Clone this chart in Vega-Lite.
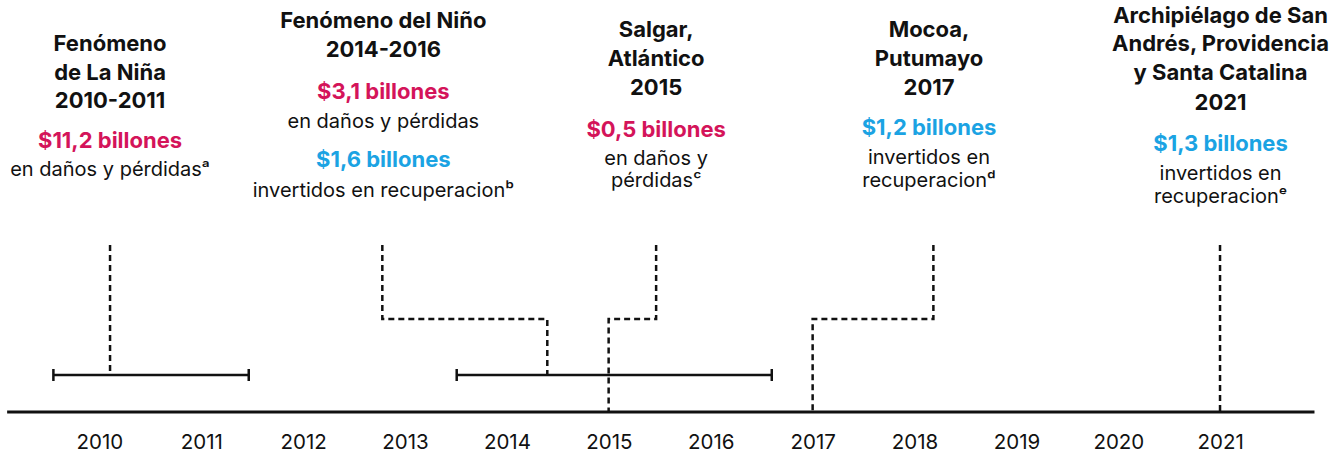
{
  "$schema": "https://vega.github.io/schema/vega-lite/v6.json",
  "width": 1342,
  "height": 455,
  "autosize": {"type": "fit", "contains": "padding"},
  "padding": 0,
  "background": "white",
  "config": {"view": {"stroke": null}, "font": "Inter"},
  "datasets": {
    "axisline": [{"from": 2009.09, "to": 2021.92, "h": 0}],
    "ranges": [
      {"event": "La Niña", "start": 2009.544, "end": 2011.461, "h": 37, "capLo": 31, "capHi": 43},
      {"event": "El Niño", "start": 2013.502, "end": 2016.594, "h": 37, "capLo": 31, "capHi": 43}
    ],
    "connectors": [
      {"id": "c1", "seq": 1, "x": 2010.10, "h": 167},
      {"id": "c1", "seq": 2, "x": 2010.10, "h": 37},
      {"id": "c2", "seq": 1, "x": 2012.772, "h": 167},
      {"id": "c2", "seq": 2, "x": 2012.772, "h": 93},
      {"id": "c2", "seq": 3, "x": 2014.391, "h": 93},
      {"id": "c2", "seq": 4, "x": 2014.391, "h": 37},
      {"id": "c3", "seq": 1, "x": 2015.459, "h": 167},
      {"id": "c3", "seq": 2, "x": 2015.459, "h": 93},
      {"id": "c3", "seq": 3, "x": 2014.993, "h": 93},
      {"id": "c3", "seq": 4, "x": 2014.993, "h": 0},
      {"id": "c4", "seq": 1, "x": 2018.180, "h": 167},
      {"id": "c4", "seq": 2, "x": 2018.180, "h": 93},
      {"id": "c4", "seq": 3, "x": 2016.995, "h": 93},
      {"id": "c4", "seq": 4, "x": 2016.995, "h": 0},
      {"id": "c5", "seq": 1, "x": 2020.993, "h": 167},
      {"id": "c5", "seq": 2, "x": 2020.993, "h": 0}
    ],
    "years": [
      {"x": 2010, "label": "2010", "h": -37},
      {"x": 2011, "label": "2011", "h": -37},
      {"x": 2012, "label": "2012", "h": -37},
      {"x": 2013, "label": "2013", "h": -37},
      {"x": 2014, "label": "2014", "h": -37},
      {"x": 2015, "label": "2015", "h": -37},
      {"x": 2016, "label": "2016", "h": -37},
      {"x": 2017, "label": "2017", "h": -37},
      {"x": 2018, "label": "2018", "h": -37},
      {"x": 2019, "label": "2019", "h": -37},
      {"x": 2020, "label": "2020", "h": -37},
      {"x": 2021, "label": "2021", "h": -37}
    ],
    "texts": [
      {"kind": "title", "x": 2010.10, "h": 361, "text": "Fenómeno"},
      {"kind": "title", "x": 2010.10, "h": 332.5, "text": "de La Niña"},
      {"kind": "title", "x": 2010.10, "h": 304, "text": "2010-2011"},
      {"kind": "damage", "x": 2010.10, "h": 264, "text": "$11,2 billones"},
      {"kind": "desc", "x": 2010.10, "h": 236, "text": "en daños y pérdidasᵃ"},

      {"kind": "title", "x": 2012.782, "h": 384, "text": "Fenómeno del Niño"},
      {"kind": "title", "x": 2012.782, "h": 355, "text": "2014-2016"},
      {"kind": "damage", "x": 2012.782, "h": 313, "text": "$3,1 billones"},
      {"kind": "desc", "x": 2012.782, "h": 284, "text": "en daños y pérdidas"},
      {"kind": "investment", "x": 2012.782, "h": 245, "text": "$1,6 billones"},
      {"kind": "desc", "x": 2012.782, "h": 215, "text": "invertidos en recuperacionᵇ"},

      {"kind": "title", "x": 2015.459, "h": 375, "text": "Salgar,"},
      {"kind": "title", "x": 2015.459, "h": 346, "text": "Atlántico"},
      {"kind": "title", "x": 2015.459, "h": 317, "text": "2015"},
      {"kind": "damage", "x": 2015.459, "h": 275, "text": "$0,5 billones"},
      {"kind": "desc", "x": 2015.459, "h": 247, "text": "en daños y"},
      {"kind": "desc", "x": 2015.459, "h": 225, "text": "pérdidasᶜ"},

      {"kind": "title", "x": 2018.137, "h": 375, "text": "Mocoa,"},
      {"kind": "title", "x": 2018.137, "h": 346, "text": "Putumayo"},
      {"kind": "title", "x": 2018.137, "h": 317, "text": "2017"},
      {"kind": "investment", "x": 2018.137, "h": 277, "text": "$1,2 billones"},
      {"kind": "desc", "x": 2018.137, "h": 248, "text": "invertidos en"},
      {"kind": "desc", "x": 2018.137, "h": 225, "text": "recuperacionᵈ"},

      {"kind": "title", "x": 2020.998, "h": 389, "text": "Archipiélago de San"},
      {"kind": "title", "x": 2020.998, "h": 361, "text": "Andrés, Providencia"},
      {"kind": "title", "x": 2020.998, "h": 332, "text": "y Santa Catalina"},
      {"kind": "title", "x": 2020.998, "h": 302, "text": "2021"},
      {"kind": "investment", "x": 2020.998, "h": 261, "text": "$1,3 billones"},
      {"kind": "desc", "x": 2020.998, "h": 232, "text": "invertidos en"},
      {"kind": "desc", "x": 2020.998, "h": 209, "text": "recuperacionᵉ"}
    ]
  },
  "layer": [
    {
      "data": {"name": "axisline"},
      "mark": {"type": "rule", "color": "#111111", "strokeWidth": 3},
      "encoding": {
        "x": {"field": "from", "type": "quantitative", "scale": {"domain": [2009.02, 2022.19], "nice": false, "zero": false}, "axis": null},
        "x2": {"field": "to"},
        "y": {"field": "h", "type": "quantitative", "scale": {"domain": [-43, 412], "nice": false, "zero": false}, "axis": null}
      }
    },
    {
      "data": {"name": "ranges"},
      "mark": {"type": "rule", "color": "#111111", "strokeWidth": 2.5},
      "encoding": {
        "x": {"field": "start", "type": "quantitative"},
        "x2": {"field": "end"},
        "y": {"field": "h", "type": "quantitative"}
      }
    },
    {
      "data": {"name": "ranges"},
      "transform": [{"fold": ["start", "end"], "as": ["edge", "xv"]}],
      "mark": {"type": "rule", "color": "#111111", "strokeWidth": 2.5},
      "encoding": {
        "x": {"field": "xv", "type": "quantitative"},
        "y": {"field": "capLo", "type": "quantitative"},
        "y2": {"field": "capHi"}
      }
    },
    {
      "data": {"name": "connectors"},
      "mark": {"type": "line", "color": "#111111", "strokeWidth": 2.5, "strokeDash": [6, 4], "strokeCap": "butt", "strokeJoin": "miter"},
      "encoding": {
        "x": {"field": "x", "type": "quantitative"},
        "y": {"field": "h", "type": "quantitative"},
        "detail": {"field": "id"},
        "order": {"field": "seq", "type": "quantitative"}
      }
    },
    {
      "data": {"name": "years"},
      "mark": {"type": "text", "font": "Inter", "fontSize": 20.5, "color": "#111111", "align": "center", "baseline": "alphabetic"},
      "encoding": {
        "x": {"field": "x", "type": "quantitative"},
        "y": {"field": "h", "type": "quantitative"},
        "text": {"field": "label"}
      }
    },
    {
      "data": {"name": "texts"},
      "transform": [{"filter": "datum.kind === 'title'"}],
      "mark": {"type": "text", "font": "Inter", "fontSize": 22, "fontWeight": "bold", "color": "#111111", "align": "center", "baseline": "alphabetic"},
      "encoding": {
        "x": {"field": "x", "type": "quantitative"},
        "y": {"field": "h", "type": "quantitative"},
        "text": {"field": "text"}
      }
    },
    {
      "data": {"name": "texts"},
      "transform": [{"filter": "datum.kind === 'damage'"}],
      "mark": {"type": "text", "font": "Inter", "fontSize": 22, "fontWeight": "bold", "color": "#D4145A", "align": "center", "baseline": "alphabetic"},
      "encoding": {
        "x": {"field": "x", "type": "quantitative"},
        "y": {"field": "h", "type": "quantitative"},
        "text": {"field": "text"}
      }
    },
    {
      "data": {"name": "texts"},
      "transform": [{"filter": "datum.kind === 'investment'"}],
      "mark": {"type": "text", "font": "Inter", "fontSize": 22, "fontWeight": "bold", "color": "#1BA3E3", "align": "center", "baseline": "alphabetic"},
      "encoding": {
        "x": {"field": "x", "type": "quantitative"},
        "y": {"field": "h", "type": "quantitative"},
        "text": {"field": "text"}
      }
    },
    {
      "data": {"name": "texts"},
      "transform": [{"filter": "datum.kind === 'desc'"}],
      "mark": {"type": "text", "font": "Inter", "fontSize": 20, "color": "#111111", "align": "center", "baseline": "alphabetic"},
      "encoding": {
        "x": {"field": "x", "type": "quantitative"},
        "y": {"field": "h", "type": "quantitative"},
        "text": {"field": "text"}
      }
    }
  ]
}
